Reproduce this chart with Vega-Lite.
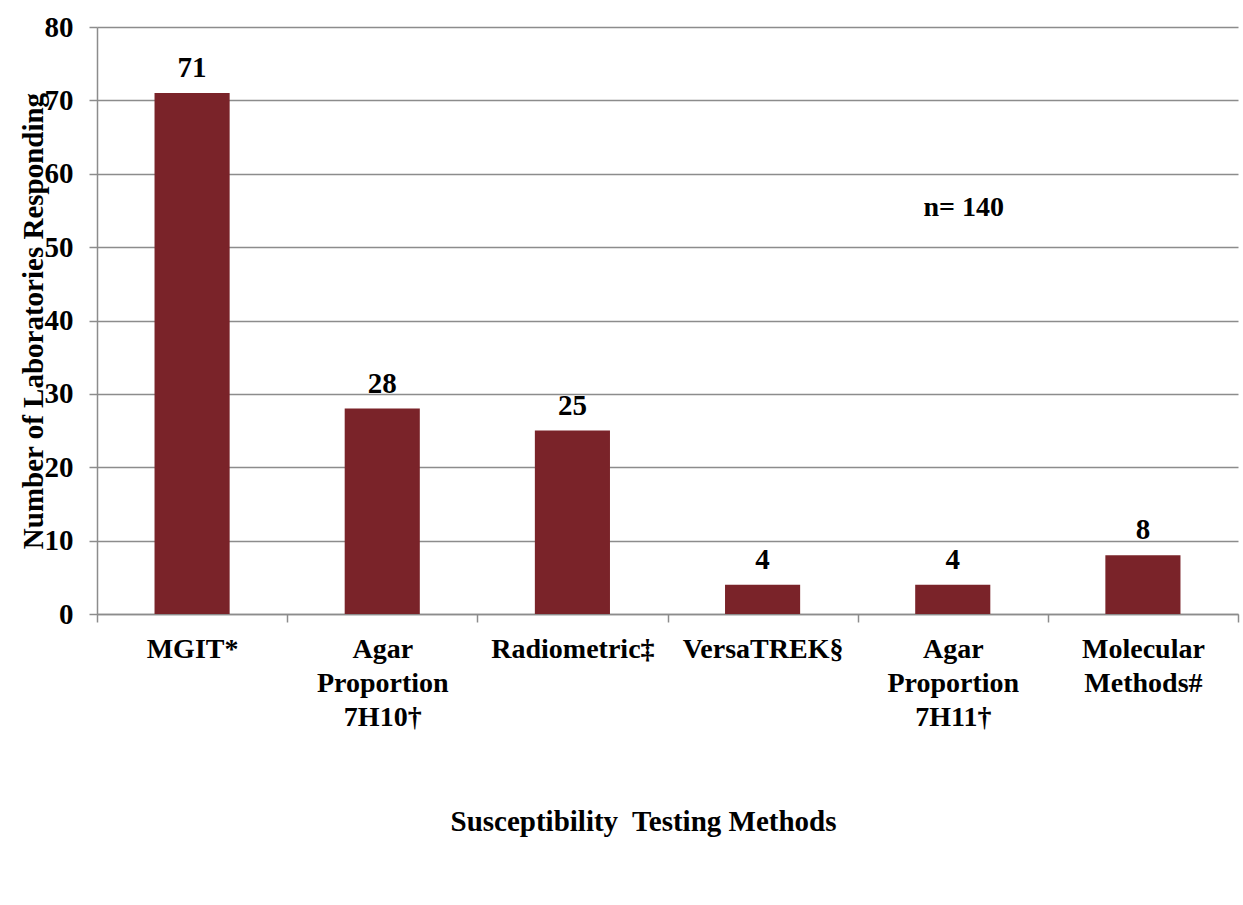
{
  "$schema": "https://vega.github.io/schema/vega-lite/v6.json",
  "autosize": "none",
  "width": 1141,
  "height": 587,
  "padding": {"left": 97, "top": 27, "right": 5, "bottom": 291},
  "background": "white",
  "config": {
    "font": "Liberation Serif",
    "view": {"stroke": null},
    "axis": {
      "labelFont": "Liberation Serif",
      "titleFont": "Liberation Serif",
      "labelFontWeight": "bold",
      "titleFontWeight": "bold",
      "labelColor": "black",
      "titleColor": "black",
      "domainColor": "#8c8c8c",
      "tickColor": "#8c8c8c",
      "gridColor": "#8c8c8c",
      "domainWidth": 1.5,
      "tickWidth": 1.5,
      "gridWidth": 1.5
    }
  },
  "data": {
    "values": [
      {"method": "MGIT*", "count": 71},
      {"method": "Agar\nProportion\n7H10†", "count": 28},
      {"method": "Radiometric‡", "count": 25},
      {"method": "VersaTREK§", "count": 4},
      {"method": "Agar\nProportion\n7H11†", "count": 4},
      {"method": "Molecular\nMethods#", "count": 8}
    ]
  },
  "encoding": {
    "x": {
      "field": "method",
      "type": "nominal",
      "sort": null,
      "scale": {"paddingInner": 0, "paddingOuter": 0},
      "axis": {
        "title": "Susceptibility\u00a0 Testing Methods",
        "titleFontSize": 29,
        "titlePadding": 76,
        "titleX": 546,
        "labelFontSize": 28,
        "labelAngle": 0,
        "labelLineHeight": 34,
        "labelPadding": 13,
        "labelExpr": "split(datum.label, '\\n')",
        "tickBand": "extent",
        "tickSize": 8,
        "grid": false
      }
    },
    "y": {
      "field": "count",
      "type": "quantitative",
      "scale": {"domain": [0, 80], "nice": false},
      "axis": {
        "title": "Number of Laboratories Responding",
        "titleFontSize": 29,
        "titlePadding": -4,
        "labelFontSize": 29,
        "labelPadding": 16,
        "values": [0, 10, 20, 30, 40, 50, 60, 70, 80],
        "tickSize": 8,
        "grid": true
      }
    }
  },
  "layer": [
    {"mark": {"type": "bar", "color": "#7A2329", "width": {"band": 0.395}}},
    {
      "mark": {"type": "text", "font": "Liberation Serif", "fontWeight": "bold", "fontSize": 29, "baseline": "bottom", "dy": -10, "color": "black"},
      "encoding": {"text": {"field": "count", "type": "quantitative"}}
    },
    {
      "data": {"values": [{"label": "n= 140", "method": "Agar\nProportion\n7H11†", "y": 55.3}]},
      "mark": {"type": "text", "font": "Liberation Serif", "fontWeight": "bold", "fontSize": 28, "baseline": "middle", "dx": 11, "color": "black"},
      "encoding": {
        "x": {"field": "method", "type": "nominal", "sort": null},
        "y": {"field": "y", "type": "quantitative"},
        "text": {"field": "label"}
      }
    }
  ]
}
